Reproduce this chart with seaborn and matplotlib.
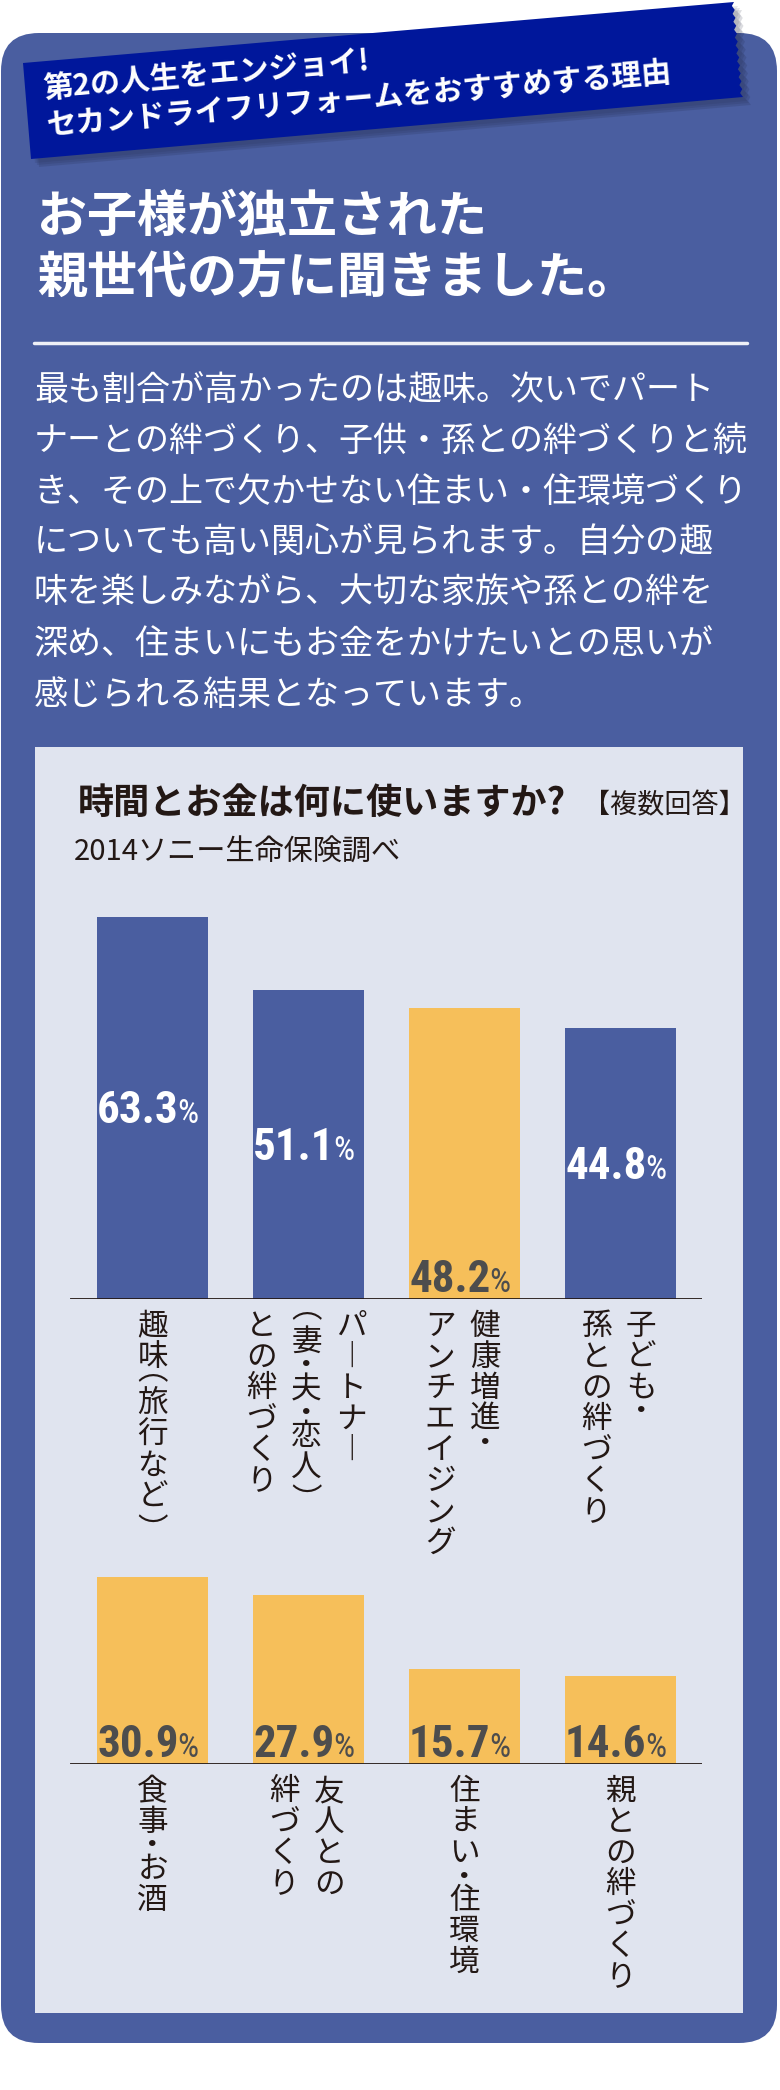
import matplotlib
matplotlib.use("Agg")
import matplotlib.pyplot as plt
import matplotlib.font_manager as fm
from matplotlib.patches import FancyBboxPatch, Polygon
from matplotlib.textpath import TextPath
import numpy as np
import pandas as pd
import seaborn as sns

# ------------------ Data ------------------
ribbon_lines = ["第2の人生をエンジョイ!", "セカンドライフリフォームをおすすめする理由"]
headline = ["お子様が独立された", "親世代の方に聞きました。"]
para_lines = [
    "最も割合が高かったのは趣味。次いでパート",
    "ナーとの絆づくり、子供・孫との絆づくりと続",
    "き、その上で欠かせない住まい・住環境づくり",
    "についても高い関心が見られます。自分の趣",
    "味を楽しみながら、大切な家族や孫との絆を",
    "深め、住まいにもお金をかけたいとの思いが",
    "感じられる結果となっています。",
]
chart_title = "時間とお金は何に使いますか?"
chart_note = "【複数回答】"
chart_source = "2014ソニー生命保険調べ"

top_items = ["趣味（旅行など）", "パートナー（妻・夫・恋人）との絆づくり",
             "健康増進・アンチエイジング", "子ども・孫との絆づくり"]
top_values = [63.3, 51.1, 48.2, 44.8]
top_groups = ["blue", "blue", "yellow", "blue"]
top_label_cols = [["趣味（旅行など）"],
                  ["パートナー", "（妻・夫・恋人）", "との絆づくり"],
                  ["健康増進・", "アンチエイジング"],
                  ["子ども・", "孫との絆づくり"]]

bottom_items = ["食事・お酒", "友人との絆づくり", "住まい・住環境", "親との絆づくり"]
bottom_values = [30.9, 27.9, 15.7, 14.6]
bottom_groups = ["yellow", "yellow", "yellow", "yellow"]
bottom_label_cols = [["食事・お酒"], ["友人との", "絆づくり"],
                     ["住まい・住環境"], ["親との絆づくり"]]

# ------------------ Style ------------------
PANEL = "#4a5ea0"
RIBBON = "#00179b"
LIGHT = "#e0e4ef"
YELLOW = "#f6bf5a"
DARK = "#231815"
GRAY = "#4d4d4d"
palette = {"blue": PANEL, "yellow": YELLOW}

sns.set_style("white")
plt.rcParams["font.family"] = ["Noto Sans CJK JP", "DejaVu Sans"]

# narrowest available face for the percentages
ttf = fm.fontManager.ttflist
num_kw = {"family": "DejaVu Sans"}
for fam, st in [("Liberation Sans Narrow", None), ("Roboto Condensed", None),
                ("DejaVu Sans", "condensed"), ("Roboto", None)]:
    if any(f.name == fam and (st is None or f.stretch == st) for f in ttf):
        num_kw = {"family": fam}
        if st:
            num_kw["stretch"] = st
        break


def fit_size(s, width_px, cap, **kw):
    fp = fm.FontProperties(size=100, **num_kw, **kw)
    w = TextPath((0, 0), s, prop=fp).get_extents().width
    return min(cap, 72 * width_px / w)


num_size = fit_size("63.3", 77, 33, weight="bold")
pct_size = fit_size("%", 23, 24)

W, H = 780, 2090
fig = plt.figure(figsize=(W / 100, H / 100), dpi=100)

# background layer in pixel coordinates
bg = fig.add_axes([0, 0, 1, 1])
bg.set_xlim(0, W)
bg.set_ylim(H, 0)
bg.axis("off")

bg.add_patch(FancyBboxPatch((1, 33), 776, 2010, boxstyle="round,pad=0,rounding_size=38",
                            fc=PANEL, ec="none"))
bg.add_patch(plt.Rectangle((35, 747), 708, 1266, fc=LIGHT, ec="none"))

# ribbon with soft shadow and perforated right edge
tl, tr, br, bl = np.array([23, 63]), np.array([734, 2]), np.array([743, 97]), np.array([31, 159])
t = np.linspace(0, 1, 25)
wave = 2.5 * (np.arange(25) % 2)
edge = tr + np.outer(t, br - tr) - np.outer(wave, [1, 0])
ribbon_pts = np.vstack([tl, edge, bl])
for k, a in enumerate([0.10, 0.12, 0.15]):
    off = np.array([4 + 2 * k, 4 + 2 * k])
    bg.add_patch(Polygon(ribbon_pts + off, closed=True, fc="#1a1f3a", ec="none", alpha=a))
bg.add_patch(Polygon(ribbon_pts, closed=True, fc=RIBBON, ec="none"))
for (x, y), line in zip([(43, 89), (47, 126)], ribbon_lines):
    bg.text(x, y, line, color="white", fontsize=21.5, fontweight="bold", rotation=4.9,
            rotation_mode="anchor", ha="left", va="center")

for y, line in zip([217, 279], headline):
    bg.text(37, y, line, color="white", fontsize=36, fontweight="bold", ha="left", va="center")

bg.plot([34, 747], [343, 343], color="#eef0f7", lw=2.5)

for k, line in enumerate(para_lines):
    bg.text(34, 391 + k * 50.7, line, color="white", fontsize=24.5, ha="left", va="center")

bg.text(78, 803, chart_title, color=DARK, fontsize=26, fontweight="bold", ha="left", va="center")
bg.text(583, 806, chart_note, color=DARK, fontsize=19.5, ha="left", va="center")
bg.text(74, 853, chart_source, color=DARK, fontsize=21, ha="left", va="center")

# ------------------ Bar charts ------------------
PX_PER_PCT = 6.04
X0, X1 = 70, 702
VERT = {"ー": "︱", "（": "︵", "）": "︶"}
NARROW = set("・︵︶")
SHIFT = {"︵": 10, "︶": -10}


def bar_panel(base_y, top_y, items, values, groups, label_cols):
    ax = fig.add_axes([X0 / W, 1 - base_y / H, (X1 - X0) / W, (base_y - top_y) / H])
    df = pd.DataFrame({"item": items, "value": values, "group": groups})
    sns.barplot(data=df, x="item", y="value", hue="group", palette=palette, order=items,
                width=0.7115, saturation=1, linewidth=0, legend=False, ax=ax)
    ax.set_xlim(-0.529, 3.522)
    ax.set_ylim(0, (base_y - top_y) / PX_PER_PCT)
    ax.patch.set_alpha(0)
    sns.despine(ax=ax, left=True, bottom=True)
    ax.set_xticks([])
    ax.set_yticks([])
    ax.set_xlabel("")
    ax.set_ylabel("")
    ax.axhline(0, color=DARK, lw=2)

    for i, (v, g) in enumerate(zip(values, groups)):
        if g == "blue":
            xy, dy, col = (i, v / 2), -15, "white"
        else:
            xy, dy, col = (i, 0), 7, GRAY
        ax.annotate(f"{v:.1f}", xy=xy, xytext=(26, dy), textcoords="offset pixels",
                    ha="right", va="baseline", fontsize=num_size, fontweight="bold",
                    color=col, **num_kw)
        ax.annotate("%", xy=xy, xytext=(25, dy), textcoords="offset pixels",
                    ha="left", va="baseline", fontsize=pct_size, color=col, **num_kw)

    # vertical Japanese labels, columns read right to left
    for i, cols in enumerate(label_cols):
        n = len(cols)
        for k, col in enumerate(cols):
            dx = ((n - 1) / 2 - k) * 45 - (2 if n > 1 else 0)
            y = 12
            for ch in col:
                ch = VERT.get(ch, ch)
                adv = 16 if ch in NARROW else 31
                ax.annotate(ch, xy=(i, 0), xytext=(dx, -(y + adv / 2) + SHIFT.get(ch, 0)),
                            textcoords="offset pixels", ha="center", va="center",
                            fontsize=22, color=DARK, annotation_clip=False)
                y += adv
    return ax


bar_panel(1299, 880, top_items, top_values, top_groups, top_label_cols)
bar_panel(1764, 1540, bottom_items, bottom_values, bottom_groups, bottom_label_cols)

fig.savefig("out.png", dpi=100)
